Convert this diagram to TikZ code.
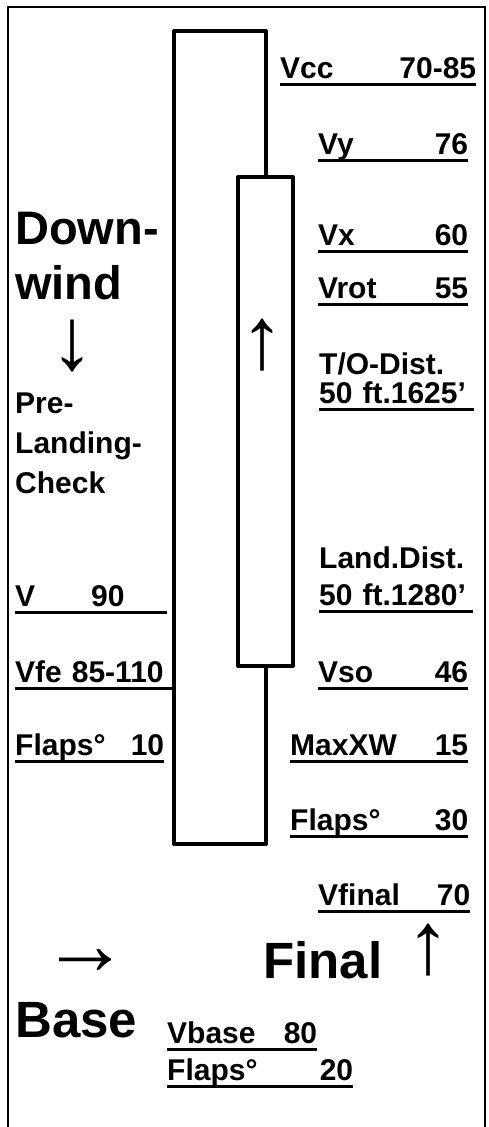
\documentclass[tikz,border=0pt]{standalone}
\usepackage{fontspec}
\setmainfont{Liberation Sans}
\usetikzlibrary{positioning}

\begin{document}
\begin{tikzpicture}[x=1pt, y=-1pt,
    lbl/.style={inner sep=0pt, anchor=base west, font=\fontsize{30}{40}\selectfont\bfseries, align=left},
    ulbl/.style={lbl, text width=#1},
    big/.style={inner sep=0pt, anchor=base west, font=\fontsize{47}{55}\selectfont\bfseries, align=left},
    huge/.style={big, font=\fontsize{51}{60}\selectfont\bfseries},
    arw/.style={inner sep=0pt, font=\fontsize{88}{88}\selectfont},
    uline/.style={line width=3pt},
    strip/.style={line width=4pt, line join=round}]
  \useasboundingbox (0,0) rectangle (488,1127);
  % frame, open at the bottom
  \draw[line width=2pt] (8,1127) -- (8,7) -- (485,7) -- (485,1127);
  % runway
  \draw[strip] (174,31) rectangle (266,844);
  \draw[strip, fill=white] (238,177) rectangle (293,666);
  \node[arw] (upwind) at (262,345) {↑};

  % right column
  \node[ulbl=196pt] (vcc) at (280,78) {Vcc\hfill 70-85};
  \node[ulbl=150pt] (vy) at (318,154) {Vy\hfill 76};
  \node[ulbl=150pt] (vx) at (318,245) {Vx\hfill 60};
  \node[ulbl=150pt] (vrot) at (318,298) {Vrot\hfill 55};
  \node[lbl] (todist) at (319,374) {T/O-Dist.};
  \node[ulbl=155pt] (tofifty) at (319,403) {50 ft.1625’};
  \node[lbl] (ldist) at (319,568) {Land.Dist.};
  \node[ulbl=154pt] (ldfifty) at (319,605) {50 ft.1280’};
  \node[ulbl=150pt] (vso) at (318,682) {Vso\hfill 46};
  \node[ulbl=178pt] (maxxw) at (290,755) {MaxXW\hfill 15};
  \node[ulbl=178pt] (flapsfin) at (290,830) {Flaps°\hfill 30};
  \node[ulbl=152pt] (vfinal) at (318,905) {Vfinal\hfill 70};

  % left column
  \node[big, text depth=0pt] (downwind) at (15,299) {Down-\\wind};
  \node[arw] (down) at (72,346) {↓};
  \node[lbl] (check) at (15,493) {Pre-\\Landing-\\Check};
  \node[ulbl=152pt] (vdw) at (15,606) {V\hspace{56pt}90};
  \node[ulbl=157pt] (vfe) at (15,682) {Vfe 85-110};
  \node[ulbl=149pt] (flapsdw) at (15,755) {Flaps°\hfill 10};

  % base and final
  \node[arw] (right) at (85,962) {→};
  \node[huge] (final) at (263,978) {Final};
  \node[arw] (upfinal) at (428,950) {↑};
  \node[huge] (base) at (15,1037) {Base};
  \node[ulbl=150pt] (vbase) at (167,1043) {Vbase\hfill 80};
  \node[ulbl=186pt] (flapsbase) at (167,1080) {Flaps°\hfill 20};

  % underlines
  \foreach \n in {vcc,vy,vx,vrot,tofifty,ldfifty,vso,maxxw,flapsfin,vfinal,vdw,vfe,flapsdw,vbase,flapsbase}
    \draw[uline] ([yshift=-6pt]\n.base west) -- ([yshift=-6pt]\n.base east);
\end{tikzpicture}
\end{document}
